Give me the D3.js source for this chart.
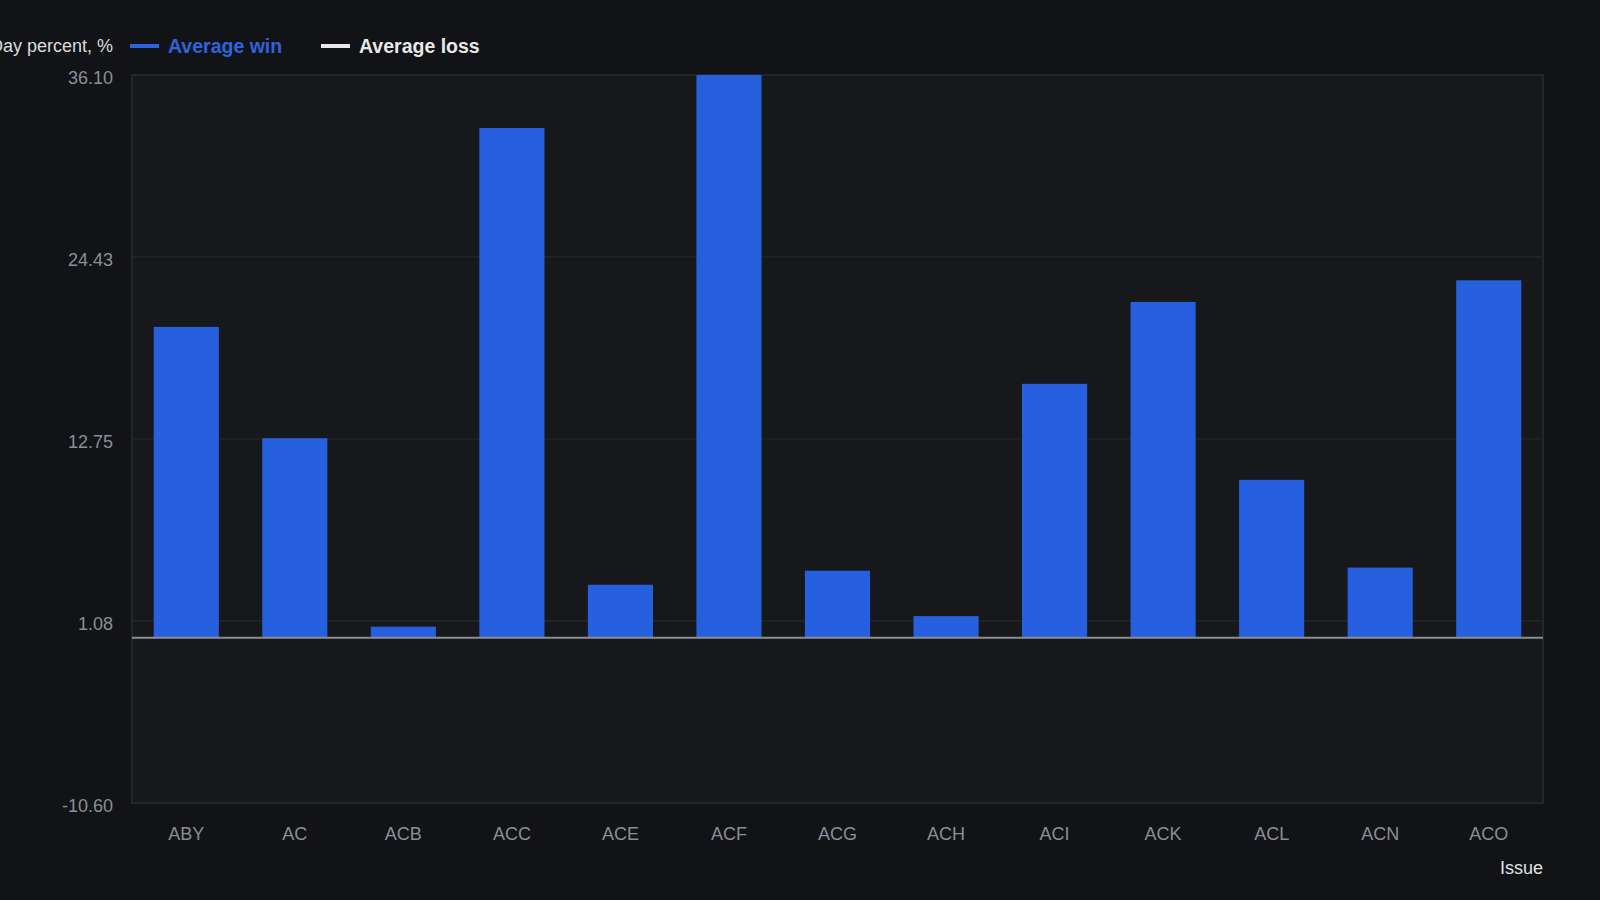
<!DOCTYPE html>
<html>
<head>
<meta charset="utf-8">
<script src="https://cdn.jsdelivr.net/npm/d3@7"></script>
<style>
  html, body { margin: 0; padding: 0; background: #111317; overflow: hidden; }
  svg { display: block; font-family: "Liberation Sans", Arial, Helvetica, sans-serif; }
</style>
</head>
<body>
<div id="chart"></div>
<script>
// Chart data
const issues = ["ABY", "AC", "ACB", "ACC", "ACE", "ACF", "ACG", "ACH", "ACI", "ACK", "ACL", "ACN", "ACO"];
const avgWin = [19.94, 12.8, 0.71, 32.7, 3.4, 36.1, 4.3, 1.39, 16.29, 21.54, 10.13, 4.5, 22.93];
const avgLoss = [0, 0, 0, 0, 0, 0, 0, 0, 0, 0, 0, 0, 0];
const yTicks = [-10.60, 1.08, 12.75, 24.43, 36.10];
const legendItems = ["Average win", "Average loss"];

const W = 1600, H = 900;
const margin = { top: 75, right: 57, bottom: 97, left: 132 };
const width = W - margin.left - margin.right;
const height = H - margin.top - margin.bottom;

const svg = d3.select("#chart")
    .append("svg")
    .attr("width", W)
    .attr("height", H);

const g = svg.append("g")
    .attr("transform", "translate(" + margin.left + "," + margin.top + ")");

const x = d3.scaleBand()
    .domain(issues)
    .range([0, width])
    .paddingInner(0.4)
    .paddingOuter(0.2);

const y = d3.scaleLinear()
    .domain([d3.min(yTicks), d3.max(yTicks)])
    .range([height, 0]);

// plot background + frame
g.append("rect")
    .attr("width", width)
    .attr("height", height)
    .attr("fill", "#16181c")
    .attr("stroke", "#2b2d32")
    .attr("stroke-width", 1.5);

// grid lines
g.append("g")
    .selectAll("line")
    .data(yTicks.slice(1, -1))
    .enter()
    .append("line")
    .attr("x1", 0)
    .attr("x2", width)
    .attr("y1", d => y(d))
    .attr("y2", d => y(d))
    .attr("stroke", "#25272c")
    .attr("stroke-width", 1.2);

// win bars
g.append("g")
    .selectAll("rect")
    .data(issues)
    .enter()
    .append("rect")
    .attr("x", d => x(d))
    .attr("y", (d, i) => y(Math.max(0, avgWin[i])))
    .attr("width", x.bandwidth())
    .attr("height", (d, i) => Math.abs(y(avgWin[i]) - y(0)))
    .attr("fill", "#2760de");

// loss bars (all zero here)
g.append("g")
    .selectAll("rect")
    .data(issues)
    .enter()
    .append("rect")
    .attr("x", d => x(d))
    .attr("y", (d, i) => y(Math.max(0, -avgLoss[i])))
    .attr("width", x.bandwidth())
    .attr("height", (d, i) => Math.abs(y(-avgLoss[i]) - y(0)))
    .attr("fill", "#e6e6e6");

// zero line
g.append("line")
    .attr("x1", 0)
    .attr("x2", width)
    .attr("y1", y(0))
    .attr("y2", y(0))
    .attr("stroke", "#8c8d90")
    .attr("stroke-width", 2);

// y axis (plain hyphen for negatives, like the original)
const yAxis = g.append("g")
    .call(d3.axisLeft(y).tickValues(yTicks).tickFormat(d => d.toFixed(2)).tickSize(0).tickPadding(19));
yAxis.select(".domain").remove();
yAxis.selectAll("text")
    .attr("dy", "0.45em")
    .attr("fill", "#8b8e94")
    .style("font-size", "18px");

// x axis
const xAxis = g.append("g")
    .attr("transform", "translate(0," + height + ")")
    .call(d3.axisBottom(x).tickSize(0).tickPadding(24));
xAxis.select(".domain").remove();
xAxis.selectAll("text")
    .attr("fill", "#8b8e94")
    .style("font-size", "18px");

// axis titles
svg.append("text")
    .attr("x", margin.left - 19)
    .attr("y", 46)
    .attr("dy", "0.35em")
    .attr("text-anchor", "end")
    .attr("fill", "#dcdcdc")
    .style("font-size", "18px")
    .text("Day percent, %");

svg.append("text")
    .attr("x", margin.left + width)
    .attr("y", 868)
    .attr("dy", "0.35em")
    .attr("text-anchor", "end")
    .attr("fill", "#e2e2e2")
    .style("font-size", "18px")
    .text("Issue");

// legend
const legendColors = ["#2f63dc", "#e8e8e8"];
const legendX = [130, 321];
const legend = svg.append("g")
    .selectAll("g")
    .data(legendItems)
    .enter()
    .append("g")
    .attr("transform", (d, i) => "translate(" + legendX[i] + ",46)");

legend.append("line")
    .attr("x1", 0)
    .attr("x2", 29)
    .attr("stroke", (d, i) => legendColors[i])
    .attr("stroke-width", 4);

legend.append("text")
    .attr("x", 38)
    .attr("dy", "0.35em")
    .attr("fill", (d, i) => legendColors[i])
    .style("font-size", "19.5px")
    .style("font-weight", "bold")
    .text(d => d);
</script>
</body>
</html>
